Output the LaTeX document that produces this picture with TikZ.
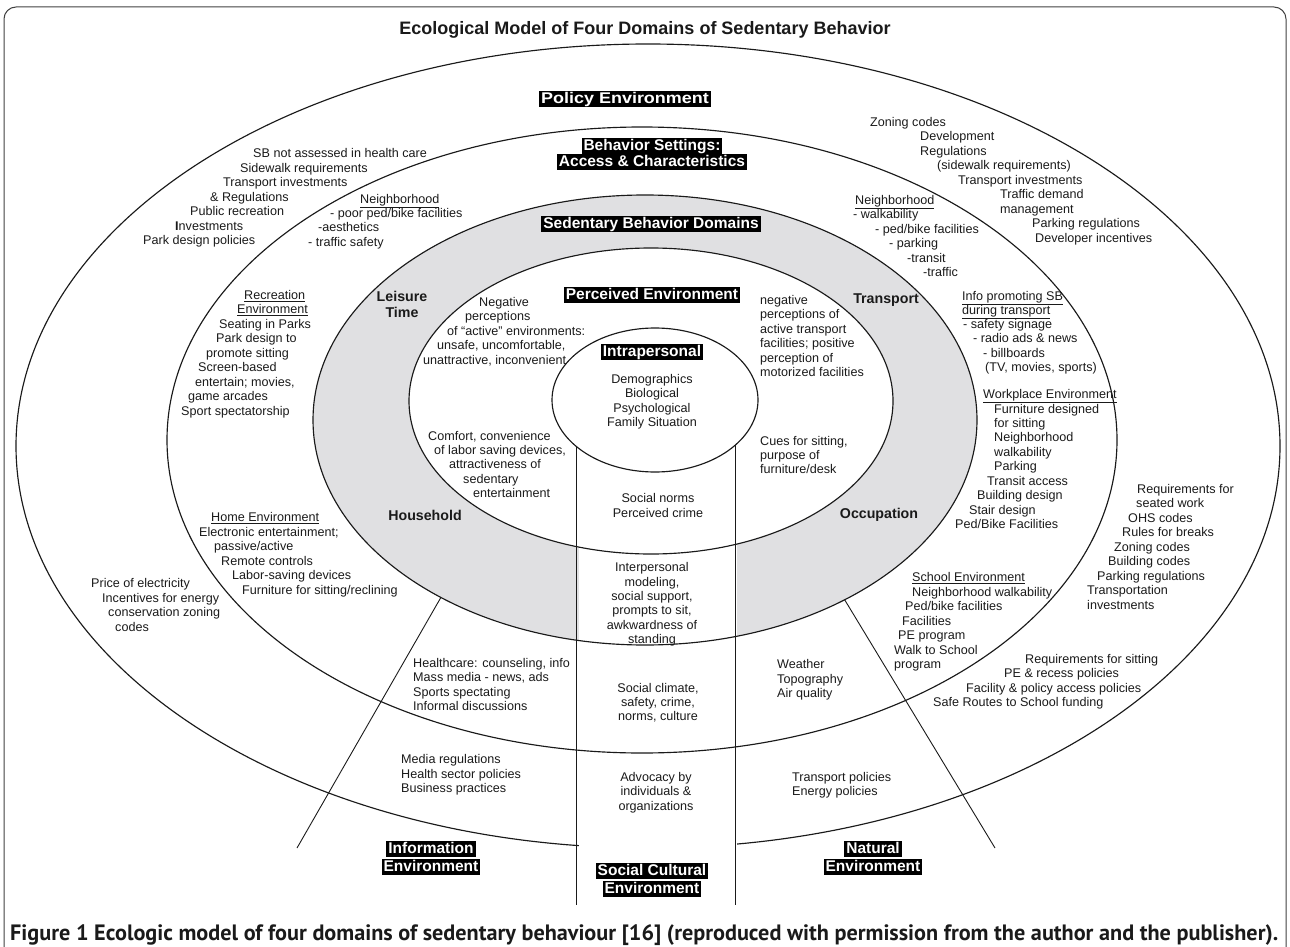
\documentclass[tikz,border=0pt]{standalone}
\usepackage{fontspec}
\setmainfont{Liberation Sans}
\newfontfamily\capfont{PT Sans}
\usetikzlibrary{shapes.geometric}
\definecolor{ringgray}{HTML}{E0E0E2}
\definecolor{ink}{HTML}{1A1A1A}
\newcommand\T[4]{\node[txt] (#1) at (#2,#3+4.5) {#4};}
\newcommand\C[4]{\node[txt,anchor=base] (#1) at (#2,#3+4.5) {#4};}
\begin{document}
\begin{tikzpicture}[x=1pt,y=-1pt,
  txt/.style={font=\fontsize{12.6}{14.5}\selectfont, inner sep=0pt, anchor=base west, text=ink},
  lab/.style={fill=black, text=white, font=\fontsize{15.5}{16}\selectfont\bfseries, inner xsep=2pt, inner ysep=0.8pt, text height=11.6pt, text depth=3.4pt},
  dom/.style={font=\fontsize{14.2}{16}\selectfont\bfseries, inner sep=0pt, text=ink},
  ring/.style={ellipse, draw=ink, line width=1.15pt, inner sep=0pt, outer sep=0pt},
  conn/.style={draw=ink, line width=0.9pt},
]
\useasboundingbox (0,0) rectangle (1290,947);
% frame
\draw[line width=1pt, black!75, rounded corners=12pt] (4,7) rectangle (1286,990);
% title
\node[font=\fontsize{18}{20}\selectfont\bfseries, text=ink] (title) at (645,30) {Ecological Model of Four Domains of Sedentary Behavior};
% gray ring
\fill[ringgray, even odd rule] (645,420) ellipse [x radius=332pt, y radius=225pt] (651,401) ellipse [x radius=242pt, y radius=153pt];
% outer ellipse
\node[ring, minimum width=1264pt, minimum height=804pt] (policy) at (648,446) {};
% column cut
\fill[white] (578.5,460) rectangle (736.5,880);
\node[ring, minimum width=950pt, minimum height=626pt] (settings) at (642,440) {};
\node[ring, minimum width=664pt, minimum height=450pt] (domains) at (645,420) {};
\node[ring, minimum width=484pt, minimum height=306pt] (perceived) at (651,401) {};
\node[ring, fill=white, minimum width=206pt, minimum height=144pt] (intra) at (655,400) {};
% column lines
\coordinate (colbot) at (0,905);
\draw[conn] (intra.211.9) -- (intra.211.9 |- colbot);
\draw[conn] (intra.331.8) -- (intra.331.8 |- colbot);
% diagonals
\coordinate (infoend) at (297,848);
\coordinate (natend) at (995,848);
\draw[conn] (domains.221.8) -- (infoend);
\draw[conn] (domains.318.2) -- (natend);
% black labels
\node[lab] (lpolicy) at (625,99) {\scalebox{1.16}[1]{Policy Environment}};
\node[lab] (lset1) at (652,146) {Behavior Settings:};
\node[lab] (lset2) at (652,162) {Access \& Characteristics};
\node[lab] (ldom) at (651,224) {Sedentary Behavior Domains};
\node[lab] (lperc) at (652,295) {Perceived Environment};
\node[lab] (lintra) at (652,352) {Intrapersonal};
\node[lab] (linfo1) at (431,849) {Information};
\node[lab] (linfo2) at (431,867) {Environment};
\node[lab] (lsoc1) at (652,871) {Social Cultural};
\node[lab] (lsoc2) at (652,889) {Environment};
\node[lab] (lnat1) at (873,849) {Natural};
\node[lab] (lnat2) at (873,867) {Environment};
% domain labels
\node[dom] (dleis1) at (402,296) {Leisure};
\node[dom] (dleis2) at (402,312) {Time};
\node[dom] (dtrans) at (886,300) {Transport};
\node[dom] (dhouse) at (425,515) {Household};
\node[dom] (docc) at (879,515) {Occupation};
% block A
\T{a1}{253}{153}{SB not assessed in health care}
\T{a2}{240}{168}{Sidewalk requirements}
\T{a3}{223}{182}{Transport investments}
\T{a4}{210}{197}{\& Regulations}
\T{a5}{190}{211}{Public recreation}
\T{a6}{175}{226}{\textbf{I}nvestments}
\T{a7}{143}{240}{Park design policies}
% block B
\T{b1}{360}{199}{\underline{Neighborhood}}
\T{b2}{330}{213}{- poor ped/bike facilities}
\T{b3}{318}{227}{-aesthetics}
\T{b4}{308}{242}{- traffic safety}
% block C
\T{c1}{870}{122}{Zoning codes}
\T{c2}{920}{136}{Development}
\T{c3}{920}{151}{Regulations}
\T{c4}{937}{165}{(sidewalk requirements)}
\T{c5}{958}{180}{Transport investments}
\T{c6}{1000}{194}{Traffic demand}
\T{c7}{1000}{209}{management}
\T{c8}{1032}{223}{Parking regulations}
\T{c9}{1035}{238}{Developer incentives}
% block D
\T{d1}{855}{200}{\underline{Neighborhood}}
\T{d2}{853}{214}{- walkability}
\T{d3}{875}{229}{- ped/bike facilities}
\T{d4}{889}{243}{- parking}
\T{d5}{907}{258}{-transit}
\T{d6}{923}{272}{-traffic}
% block E
\T{e1}{962}{296}{\underline{Info promoting SB}}
\T{e2}{962}{310}{\underline{during transport}}
\T{e3}{963}{324}{- safety signage}
\T{e4}{973}{338}{- radio ads \& news}
\T{e5}{983}{353}{- billboards}
\T{e6}{985}{367}{(TV, movies, sports)}
% block F
\T{f1}{983}{394}{\underline{Workplace Environment}}
\T{f2}{994}{409}{Furniture designed}
\T{f3}{994}{423}{for sitting}
\T{f4}{994}{437}{Neighborhood}
\T{f5}{994}{452}{walkability}
\T{f6}{994}{466}{Parking}
\T{f7}{987}{481}{Transit access}
\T{f8}{977}{495}{Building design}
\T{f9}{969}{510}{Stair design}
\T{f10}{955}{524}{Ped/Bike Facilities}
% block G
\T{g1}{1137}{489}{Requirements for}
\T{g2}{1136}{503}{seated work}
\T{g3}{1128}{518}{OHS codes}
\T{g4}{1122}{532}{Rules for breaks}
\T{g5}{1114}{547}{Zoning codes}
\T{g6}{1108}{561}{Building codes}
\T{g7}{1097}{576}{Parking regulations}
\T{g8}{1087}{590}{Transportation}
\T{g9}{1087}{605}{investments}
% block H
\T{h1}{912}{577}{\underline{School Environment}}
\T{h2}{912}{592}{Neighborhood walkability}
\T{h3}{905}{606}{Ped/bike facilities}
\T{h4}{902}{621}{Facilities}
\T{h5}{898}{635}{PE program}
\T{h6}{894}{650}{Walk to School}
\T{h7}{894}{664}{program}
% block I
\T{i1}{1025}{659}{Requirements for sitting}
\T{i2}{1004}{673}{PE \& recess policies}
\T{i3}{966}{688}{Facility \& policy access policies}
\T{i4}{933}{702}{Safe Routes to School funding}
% block J
\T{j1}{244}{295}{\underline{Recreation}}
\T{j2}{237}{309}{\underline{Environment}}
\T{j3}{219}{324}{Seating in Parks}
\T{j4}{216}{338}{Park design to}
\T{j5}{206}{353}{promote sitting}
\T{j6}{198}{367}{Screen-based}
\T{j7}{195}{382}{entertain; movies,}
\T{j8}{188}{396}{game arcades}
\T{j9}{181}{411}{Sport spectatorship}
% block K
\T{k1}{479}{302}{Negative}
\T{k2}{465}{316}{perceptions}
\T{k3}{447}{331}{of “active” environments:}
\T{k4}{437}{345}{unsafe, uncomfortable,}
\T{k5}{423}{360}{unattractive, inconvenient}
% block L
\T{l1}{428}{436}{Comfort, convenience}
\T{l2}{434}{450}{of labor saving devices,}
\T{l3}{449}{464}{attractiveness of}
\T{l4}{463}{479}{sedentary}
\T{l5}{473}{493}{entertainment}
% block M
\C{m1}{652}{379}{Demographics}
\C{m2}{652}{393}{Biological}
\C{m3}{652}{408}{Psychological}
\C{m4}{652}{422}{Family Situation}
% block N
\T{n1}{760}{300}{negative}
\T{n2}{760}{314}{perceptions of}
\T{n3}{760}{329}{active transport}
\T{n4}{760}{343}{facilities; positive}
\T{n5}{760}{358}{perception of}
\T{n6}{760}{372}{motorized facilities}
% block O
\T{o1}{760}{441}{Cues for sitting,}
\T{o2}{760}{455}{purpose of}
\T{o3}{760}{469}{furniture/desk}
% block P
\C{p1}{658}{498}{Social norms}
\C{p2}{658}{513}{Perceived crime}
% block Q
\C{q1}{652}{567}{Interpersonal}
\C{q2}{652}{582}{modeling,}
\C{q3}{652}{596}{social support,}
\C{q4}{652}{610}{prompts to sit,}
\C{q5}{652}{625}{awkwardness of}
\C{q6}{652}{639}{standing}
% block R
\C{r1}{658}{688}{Social climate,}
\C{r2}{658}{702}{safety, crime,}
\C{r3}{658}{716}{norms, culture}
% block S
\T{s1}{777}{664}{Weather}
\T{s2}{777}{679}{Topography}
\T{s3}{777}{693}{Air quality}
% block T
\T{t1}{413}{663}{Healthcare: counseling, info}
\T{t2}{413}{677}{Mass media - news, ads}
\T{t3}{413}{692}{Sports spectating}
\T{t4}{413}{706}{Informal discussions}
% block U
\T{u1}{211}{517}{\underline{Home Environment}}
\T{u2}{199}{532}{Electronic entertainment;}
\T{u3}{214}{546}{passive/active}
\T{u4}{221}{561}{Remote controls}
\T{u5}{232}{575}{Labor-saving devices}
\T{u6}{242}{590}{Furniture for sitting/reclining}
% block V
\T{v1}{91}{583}{Price of electricity}
\T{v2}{102}{598}{Incentives for energy}
\T{v3}{108}{612}{conservation zoning}
\T{v4}{115}{627}{codes}
% block W
\T{w1}{401}{759}{Media regulations}
\T{w2}{401}{774}{Health sector policies}
\T{w3}{401}{788}{Business practices}
% block X
\C{x1}{656}{777}{Advocacy by}
\C{x2}{656}{791}{individuals \&}
\C{x3}{656}{806}{organizations}
% block Y
\T{y1}{792}{777}{Transport policies}
\T{y2}{792}{791}{Energy policies}
% caption
\node[anchor=base west, inner sep=0pt, text=ink] (caption) at (10,940) {\resizebox{1268pt}{!}{\capfont\bfseries\fontsize{19}{20}\selectfont Figure 1 Ecologic model of four domains of sedentary behaviour [16] (reproduced with permission from the author and the publisher).}};
\end{tikzpicture}
\end{document}
